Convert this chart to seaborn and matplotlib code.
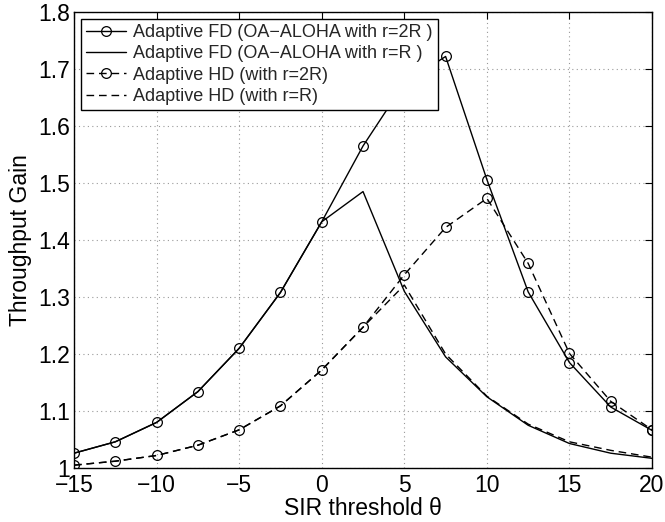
import numpy as np
import pandas as pd
import matplotlib
matplotlib.use("Agg")
import matplotlib.pyplot as plt
import seaborn as sns

# SIR threshold values (dB)
theta = [-15, -12.5, -10, -7.5, -5, -2.5, 0, 2.5, 5, 7.5, 10, 12.5, 15, 17.5, 20]

# throughput gain
fd_2r = [1.026, 1.046, 1.080, 1.134, 1.210, 1.308, 1.432, 1.565, 1.675, 1.722,
         1.506, 1.309, 1.185, 1.107, 1.066]
fd_r = [1.026, 1.046, 1.080, 1.134, 1.210, 1.308, 1.432, 1.485, 1.310, 1.195,
        1.125, 1.075, 1.043, 1.026, 1.017]
hd_2r = [1.005, 1.012, 1.022, 1.040, 1.067, 1.109, 1.172, 1.247, 1.339, 1.422,
         1.473, 1.359, 1.201, 1.117, 1.067]
hd_r = [1.005, 1.012, 1.022, 1.040, 1.067, 1.109, 1.172, 1.247, 1.321, 1.200,
        1.126, 1.077, 1.046, 1.031, 1.019]

labels = ["Adaptive FD (OA\u2212ALOHA with r=2R )",
          "Adaptive FD (OA\u2212ALOHA with r=R )",
          "Adaptive HD (with r=2R)",
          "Adaptive HD (with r=R)"]

df = pd.DataFrame({"theta": theta, "fd_2r": fd_2r, "fd_r": fd_r,
                   "hd_2r": hd_2r, "hd_r": hd_r})

sns.set_theme(style="white")
plt.rcParams["font.family"] = ["Liberation Sans", "DejaVu Sans"]

fig = plt.figure(figsize=(6.65, 5.22), dpi=100)
ax = fig.add_axes([0.1113, 0.1034, 0.8692, 0.8736])

common = dict(color="black", linewidth=1.0, markersize=7, markerfacecolor="none",
              markeredgecolor="black", markeredgewidth=0.9)
dash = (0, (5.5, 3.5))

sns.lineplot(data=df, x="theta", y="fd_2r", ax=ax, marker="o", label=labels[0], **common)
sns.lineplot(data=df, x="theta", y="fd_r", ax=ax, label=labels[1], **common)
sns.lineplot(data=df, x="theta", y="hd_2r", ax=ax, marker="o", linestyle=dash,
             label=labels[2], **common)
sns.lineplot(data=df, x="theta", y="hd_r", ax=ax, linestyle=dash, label=labels[3], **common)

ax.set_xlim(-15, 20)
ax.set_ylim(1, 1.8)
ax.set_xticks(np.arange(-15, 21, 5))
ax.set_yticks(np.arange(1, 1.81, 0.1))
ax.set_yticklabels(["1", "1.1", "1.2", "1.3", "1.4", "1.5", "1.6", "1.7", "1.8"])

ax.grid(True, linestyle=(0, (1, 3)), color="#999999", linewidth=0.8)
ax.tick_params(direction="in", length=5, width=0.8, top=True, right=True,
               labelsize=16.5, colors="black")
ax.tick_params(axis="y", pad=3)
ax.tick_params(axis="x", pad=4)
for s in ax.spines.values():
    s.set_color("black")
    s.set_linewidth(1.0)

ax.set_xlabel("SIR threshold \u03b8", fontsize=16.5, labelpad=0, color="black")
ax.set_ylabel("Throughput Gain", fontsize=16.5, labelpad=4, color="black")

leg = ax.legend(loc="upper left", fontsize=13, numpoints=1, frameon=True, fancybox=False,
                framealpha=1, edgecolor="black", borderpad=0.3, labelspacing=0.24,
                handlelength=2.2, handletextpad=0.4, borderaxespad=0.36)
leg.get_frame().set_linewidth(1.0)

fig.savefig("out.png", dpi=100)
